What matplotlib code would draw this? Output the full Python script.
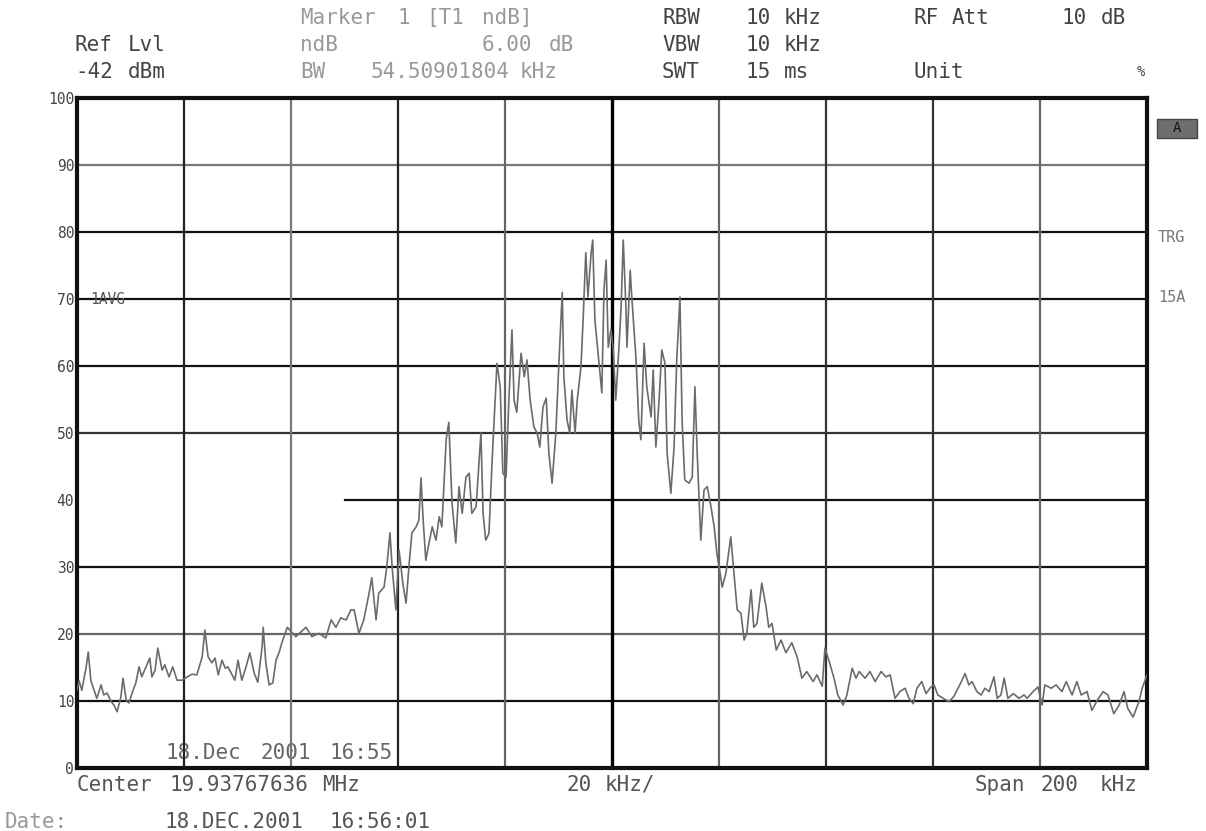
import matplotlib.pyplot as plt
from matplotlib.patches import Rectangle

# spectrum trace: offset from center frequency (kHz), level (% of ref)
freq_khz = [
    -100.0, -99.6, -99.1, -98.3, -97.9, -97.4, -96.8, -96.3, -95.5, -95.0,
    -94.4, -93.6, -93.1, -92.5, -91.8, -91.4, -90.8, -90.3, -89.7, -89.0,
    -88.4, -87.9, -87.1, -86.4, -86.0, -85.4, -84.9, -84.1, -83.6, -82.8,
    -82.1, -81.3, -80.4, -79.4, -78.5, -77.6, -76.6, -76.1, -75.5, -74.8,
    -74.2, -73.6, -72.9, -72.3, -71.8, -71.0, -70.5, -69.9, -69.2, -68.4,
    -67.7, -66.9, -66.2, -65.4, -65.2, -64.7, -64.1, -63.4, -62.8, -62.2,
    -61.7, -60.7, -59.1, -57.2, -56.1, -54.8, -53.5, -52.5, -51.6, -50.7,
    -49.7, -48.8, -48.2, -47.3, -46.4, -45.4, -44.9, -44.1, -43.6, -42.6,
    -42.1, -41.5, -41.1, -40.4, -39.8, -39.1, -38.5, -37.9, -37.4, -36.6,
    -36.1, -35.7, -35.3, -34.8, -34.2, -33.6, -32.9, -32.3, -31.8, -31.0,
    -30.5, -29.9, -29.2, -28.6, -28.0, -27.3, -26.7, -26.2, -25.4, -24.9,
    -24.5, -24.1, -23.6, -23.0, -22.4, -21.5, -20.9, -20.4, -19.8, -19.3,
    -18.7, -18.3, -17.8, -17.0, -16.4, -15.9, -15.3, -14.6, -14.0, -13.5,
    -12.9, -12.3, -11.8, -11.2, -10.5, -9.9, -9.3, -9.0, -8.4, -7.9,
    -7.5, -6.9, -6.5, -5.8, -5.4, -4.9, -4.5, -3.9, -3.6, -3.2,
    -2.6, -1.9, -1.5, -1.1, -0.7, -0.2, 0.2, 0.7, 1.3, 1.7,
    2.1, 2.6, 2.8, 3.4, 3.7, 4.5, 5.0, 5.4, 6.0, 6.5,
    7.3, 7.7, 8.2, 8.8, 9.3, 9.9, 10.3, 11.0, 11.6, 12.1,
    12.7, 13.1, 13.6, 14.4, 15.0, 15.5, 15.9, 16.6, 17.2, 17.8,
    18.5, 19.1, 19.6, 20.2, 20.6, 21.3, 22.2, 22.8, 23.4, 24.1,
    24.7, 25.2, 26.0, 26.5, 27.1, 28.0, 28.8, 29.3, 29.9, 30.7,
    31.6, 32.5, 33.6, 34.6, 35.5, 36.4, 37.6, 38.3, 39.3, 39.8,
    40.6, 41.5, 42.2, 43.2, 43.9, 44.9, 45.6, 46.2, 47.3, 48.2,
    49.2, 50.3, 51.2, 52.0, 52.9, 53.8, 54.8, 55.5, 56.3, 57.0,
    57.9, 58.7, 59.6, 60.2, 60.9, 61.9, 63.0, 63.9, 65.0, 66.0,
    66.7, 67.3, 68.2, 69.0, 69.7, 70.5, 71.4, 72.0, 72.7, 73.3,
    74.0, 75.0, 76.1, 77.0, 77.6, 78.7, 79.6, 80.4, 80.9, 82.1,
    83.0, 84.1, 84.9, 86.0, 86.9, 87.7, 88.8, 89.7, 90.7, 91.8,
    92.7, 93.8, 94.8, 95.7, 96.4, 97.4, 98.5, 99.1, 100.0,
]
level = [
    11.6, 13.0, 11.6, 15.0, 17.3, 13.0, 11.6, 10.4, 12.4, 10.9,
    11.2, 9.9, 9.4, 8.4, 10.6, 13.4, 10.1, 9.7, 11.2, 12.7,
    15.1, 13.6, 15.1, 16.4, 13.6, 14.6, 17.9, 14.6, 15.4, 13.6,
    15.1, 13.1, 13.1, 13.6, 14.0, 13.9, 16.6, 20.6, 16.6, 15.7,
    16.4, 13.9, 16.1, 14.9, 15.1, 13.9, 13.1, 16.1, 13.1, 15.1,
    17.2, 14.2, 12.8, 18.1, 21.0, 15.7, 12.4, 12.7, 16.1, 17.3,
    18.7, 21.0, 19.6, 21.0, 19.6, 20.1, 19.4, 22.1, 21.0, 22.4,
    22.1, 23.6, 23.6, 20.1, 22.1, 26.1, 28.4, 22.1, 26.1, 27.0,
    30.0, 35.1, 30.0, 23.6, 32.5, 27.6, 24.6, 30.6, 35.1, 36.0,
    37.0, 43.3, 37.0, 31.0, 33.6, 36.0, 34.0, 37.5, 36.0, 49.0,
    51.6, 39.5, 33.6, 42.0, 38.0, 43.4, 44.0, 38.0, 39.0, 45.0,
    50.0, 38.0, 34.0, 35.0, 46.0, 60.4, 56.9, 44.0, 43.4, 54.5,
    65.4, 54.9, 53.1, 61.9, 58.4, 60.9, 54.9, 50.9, 50.0, 47.9,
    53.9, 55.2, 47.0, 42.5, 50.0, 60.9, 71.0, 58.4, 51.9, 50.0,
    56.4, 50.0, 54.9, 59.9, 66.9, 76.9, 70.3, 76.9, 78.8, 66.9,
    61.9, 56.0, 71.3, 75.8, 62.8, 65.4, 62.8, 54.9, 62.8, 68.8,
    78.8, 68.8, 62.8, 74.3, 70.3, 60.9, 51.9, 49.0, 63.4, 56.9,
    52.4, 59.4, 47.9, 54.9, 62.4, 60.4, 47.0, 41.0, 47.9, 60.9,
    70.3, 51.9, 43.0, 42.5, 43.4, 56.9, 47.5, 34.0, 41.5, 42.0,
    39.0, 36.0, 32.0, 29.1, 27.0, 29.1, 34.5, 29.1, 23.6, 23.1,
    19.1, 20.1, 26.6, 21.0, 21.6, 27.6, 24.0, 21.0, 21.6, 17.6,
    19.1, 17.2, 18.7, 16.6, 13.4, 14.4, 12.9, 13.9, 12.2, 17.9,
    15.9, 13.4, 10.9, 9.4, 10.9, 14.9, 13.4, 14.4, 13.4, 14.4,
    12.9, 14.4, 13.6, 13.9, 10.4, 11.4, 11.9, 10.4, 9.6, 11.9,
    12.9, 11.1, 12.1, 12.4, 10.9, 10.4, 9.9, 10.7, 12.4, 14.1,
    12.4, 12.9, 11.4, 10.9, 11.9, 11.4, 13.6, 10.4, 10.9, 13.4,
    10.4, 11.1, 10.4, 10.9, 10.4, 11.4, 12.1, 9.4, 12.4, 11.9,
    12.4, 11.4, 12.9, 10.9, 12.9, 10.9, 11.4, 8.6, 10.1, 11.4,
    10.9, 8.1, 9.4, 11.4, 8.9, 7.6, 9.9, 11.9, 13.9,
]

y_ticks = [0, 10, 20, 30, 40, 50, 60, 70, 80, 90, 100]
# grid line colour per level / per division
h_grid = {10: '#111', 20: '#666', 30: '#111', 50: '#333',
          60: '#111', 70: '#111', 80: '#111', 90: '#777'}
v_grid = {-80: '#222', -60: '#777', -40: '#222', -20: '#666',
          20: '#666', 40: '#333', 60: '#333', 80: '#666'}

W, H = 1206, 831
MONO = 'DejaVu Sans Mono'
FS = 15

fig = plt.figure(figsize=(W / 100, H / 100), dpi=100)
ax = fig.add_axes([77 / W, (H - 768) / H, 1070 / W, 670 / H])

for yv, c in h_grid.items():
    ax.axhline(yv, color=c, lw=1.6, zorder=1)
ax.plot([-50, 100], [40, 40], color='#111', lw=1.6, zorder=1)
for xv, c in v_grid.items():
    ax.axvline(xv, color=c, lw=1.6, zorder=1)
ax.axvline(0, color='black', lw=2.4, zorder=1)

ax.plot(freq_khz, level, color='#6b6b6b', lw=1.2, zorder=3)

ax.set_xlim(-100, 100)
ax.set_ylim(0, 100)
ax.set_xticks([])
ax.set_yticks(y_ticks)
ax.set_yticklabels([str(t) for t in y_ticks], family=MONO, fontsize=10.5,
                   color='#444')
ax.tick_params(axis='y', length=0, pad=2)
for s in ax.spines.values():
    s.set_linewidth(3)
    s.set_color('#111')

ax.text(-97.5, 70, '1AVG', family=MONO, fontsize=10.5, color='#555',
        va='center', zorder=2)


def put(y, words, color='#444', size=FS, ha='left'):
    # words: list of (x_pixel, text)
    for x, s in words:
        fig.text(x / W, 1 - y / H, s, family=MONO, fontsize=size,
                 color=color, ha=ha, va='center')


light = '#999'
put(18, [(300, 'Marker'), (398, '1'), (426, '[T1'), (482, 'ndB]')], light)
put(18, [(662, 'RBW'), (745, '10'), (784, 'kHz'), (913, 'RF'), (952, 'Att'),
         (1062, '10'), (1101, 'dB')])

put(45, [(75, 'Ref'), (128, 'Lvl')])
put(45, [(300, 'ndB'), (482, '6.00'), (549, 'dB')], light)
put(45, [(662, 'VBW'), (745, '10'), (784, 'kHz')])

put(72, [(75, '-42'), (128, 'dBm')])
put(72, [(300, 'BW'), (370, '54.50901804'), (520, 'kHz')], light)
put(72, [(662, 'SWT'), (745, '15'), (784, 'ms'), (913, 'Unit')])
put(72, [(1145, '%')], size=10, ha='right')

fig.patches.append(Rectangle((1157 / W, 1 - 138 / H), 40 / W, 19 / H,
                             transform=fig.transFigure, facecolor='#6e6e6e',
                             edgecolor='#444', lw=1))
put(128, [(1177, 'A')], '#111', size=10, ha='center')
put(238, [(1158, 'TRG')], '#777', size=11)
put(298, [(1158, '15A')], '#777', size=11)

# date stamp inside the graticule, behind the grid
for x, s in [(165, '18.Dec'), (260, '2001'), (330, '16:55')]:
    ax.text((x - 77) / 1070, (768 - 753) / 670, s, transform=ax.transAxes,
            family=MONO, fontsize=FS, color='#666', va='center', zorder=0)

put(785, [(77, 'Center'), (170, '19.93767636'), (322, 'MHz')], '#555')
put(785, [(566, '20'), (605, 'kHz/')], '#555')
put(785, [(975, 'Span'), (1041, '200'), (1100, 'kHz')], '#555')
put(822, [(5, 'Date:')], light)
put(822, [(165, '18.DEC.2001'), (330, '16:56:01')], '#555')

fig.savefig('out.png', dpi=100, facecolor='white')
